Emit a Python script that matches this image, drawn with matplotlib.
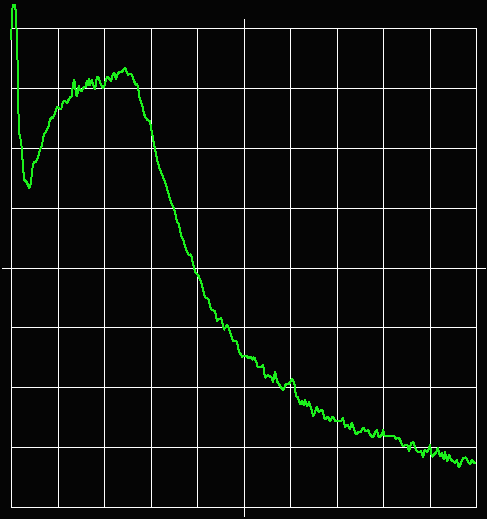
import matplotlib
matplotlib.use("Agg")
import matplotlib.pyplot as plt
import numpy as np

# Time (ms, 1 ms/div) and voltage (V, 1 V/div) of the captured trace
time_ms = [0.00, 0.01, 0.02, 0.04, 0.09, 0.11, 0.13, 0.15, 0.16, 0.17, 0.22, 0.24, 0.26, 0.28, 0.32,
           0.34, 0.37, 0.39, 0.41, 0.43, 0.45, 0.47, 0.50, 0.54, 0.56, 0.60, 0.62, 0.67, 0.69, 0.71,
           0.75, 0.80, 0.84, 0.88, 0.90, 0.95, 0.99, 1.03, 1.08, 1.10, 1.14, 1.18, 1.20, 1.23, 1.27,
           1.31, 1.33, 1.36, 1.38, 1.40, 1.42, 1.46, 1.48, 1.51, 1.53, 1.57, 1.61, 1.63, 1.66, 1.68,
           1.70, 1.72, 1.74, 1.76, 1.81, 1.83, 1.85, 1.89, 1.91, 1.96, 1.98, 2.02, 2.04, 2.07, 2.11,
           2.15, 2.17, 2.19, 2.22, 2.26, 2.28, 2.32, 2.37, 2.41, 2.45, 2.50, 2.52, 2.56, 2.60, 2.62,
           2.67, 2.69, 2.71, 2.73, 2.75, 2.77, 2.82, 2.84, 2.88, 2.93, 2.99, 3.01, 3.05, 3.10, 3.14,
           3.20, 3.25, 3.29, 3.35, 3.40, 3.44, 3.51, 3.57, 3.61, 3.66, 3.70, 3.78, 3.83, 3.87, 3.91,
           3.96, 4.02, 4.09, 4.13, 4.17, 4.24, 4.30, 4.39, 4.43, 4.52, 4.58, 4.65, 4.73, 4.77, 4.86,
           4.90, 4.97, 5.05, 5.12, 5.16, 5.18, 5.23, 5.27, 5.31, 5.40, 5.42, 5.46, 5.53, 5.61, 5.63,
           5.68, 5.72, 5.78, 5.85, 5.91, 5.96, 6.00, 6.04, 6.09, 6.13, 6.17, 6.22, 6.26, 6.30, 6.32,
           6.37, 6.41, 6.45, 6.50, 6.54, 6.58, 6.62, 6.69, 6.75, 6.82, 6.86, 6.92, 6.97, 7.03, 7.10,
           7.14, 7.18, 7.23, 7.29, 7.33, 7.42, 7.48, 7.53, 7.57, 7.63, 7.68, 7.72, 7.78, 7.83, 7.87,
           7.91, 7.98, 8.00, 8.04, 8.11, 8.19, 8.24, 8.28, 8.34, 8.39, 8.43, 8.47, 8.52, 8.56, 8.60,
           8.65, 8.69, 8.73, 8.77, 8.82, 8.86, 8.90, 8.95, 8.99, 9.01, 9.05, 9.10, 9.14, 9.18, 9.23,
           9.27, 9.31, 9.33, 9.38, 9.42, 9.46, 9.51, 9.55, 9.59, 9.63, 9.68, 9.72, 9.78, 9.83, 9.87,
           9.91, 9.96, 9.98]
volts = [3.81, 3.97, 4.24, 4.39, 4.39, 4.16, 3.72, 3.21, 2.61, 2.27, 2.09, 1.89, 1.67, 1.47, 1.44,
         1.42, 1.37, 1.32, 1.35, 1.44, 1.57, 1.72, 1.77, 1.77, 1.80, 1.89, 1.97, 2.05, 2.17, 2.22,
         2.27, 2.34, 2.47, 2.52, 2.49, 2.59, 2.69, 2.66, 2.64, 2.72, 2.79, 2.77, 2.74, 2.79, 2.84,
         2.86, 3.06, 3.14, 3.01, 2.89, 2.86, 3.04, 2.97, 2.94, 2.97, 3.01, 3.01, 3.12, 3.04, 3.16,
         3.04, 3.11, 3.14, 3.06, 2.97, 3.11, 3.19, 3.17, 3.09, 3.02, 2.99, 3.06, 3.14, 3.19, 3.16,
         3.11, 3.17, 3.22, 3.26, 3.14, 3.21, 3.26, 3.26, 3.29, 3.34, 3.24, 3.22, 3.24, 3.22, 3.17,
         3.07, 3.04, 3.07, 3.01, 2.91, 2.81, 2.72, 2.64, 2.52, 2.47, 2.44, 2.34, 2.17, 1.97, 1.80,
         1.64, 1.55, 1.47, 1.34, 1.19, 1.09, 0.97, 0.77, 0.72, 0.52, 0.47, 0.27, 0.20, 0.22, 0.08,
         -0.08, -0.12, -0.25, -0.37, -0.50, -0.52, -0.70, -0.73, -0.89, -0.84, -1.04, -0.95, -1.12, -1.22, -1.24,
         -1.40, -1.49, -1.47, -1.52, -1.49, -1.54, -1.50, -1.57, -1.67, -1.65, -1.62, -1.84, -1.80, -1.84, -1.92,
         -1.74, -1.90, -1.97, -2.05, -1.95, -1.95, -1.92, -1.85, -1.92, -2.15, -2.17, -2.29, -2.22, -2.31, -2.21,
         -2.32, -2.24, -2.34, -2.49, -2.41, -2.32, -2.42, -2.37, -2.54, -2.49, -2.57, -2.49, -2.56, -2.57, -2.57,
         -2.51, -2.66, -2.62, -2.71, -2.59, -2.79, -2.74, -2.74, -2.67, -2.74, -2.71, -2.79, -2.84, -2.76, -2.71,
         -2.84, -2.79, -2.71, -2.82, -2.82, -2.81, -2.82, -2.86, -2.84, -2.92, -2.99, -2.97, -2.96, -3.07, -2.94,
         -2.91, -3.01, -3.07, -3.09, -3.07, -3.17, -3.04, -3.09, -3.02, -2.96, -3.16, -3.12, -3.09, -3.01, -3.16,
         -3.09, -3.21, -3.07, -3.24, -3.12, -3.21, -3.24, -3.26, -3.21, -3.34, -3.26, -3.19, -3.17, -3.24, -3.29,
         -3.22, -3.26, -3.27]

# Graticule: 10 x 8 divisions
x_divs = list(range(0, 11))
y_divs = list(range(-4, 5))

W, H = 487, 519
fig = plt.figure(figsize=(W / 100, H / 100), dpi=100, facecolor="#050505")
ax = fig.add_axes([0, 0, 1, 1])
ax.set_facecolor("#050505")

px_x = 46.5   # pixels per horizontal division
px_y = 59.875  # pixels per vertical division
ax.set_xlim(-11 / px_x, 10 + 11 / px_x)
ax.set_ylim(-4 - 12 / px_y, 4 + 28 / px_y)
ax.axis("off")

grid_kw = dict(color="white", linewidth=0.7, antialiased=False, zorder=1)
ext_x = 9 / px_x
ext_y = 9 / px_y
for xv in x_divs:
    if xv == 5:
        ax.plot([xv, xv], [-4 - ext_y, 4 + ext_y], **grid_kw)
    else:
        ax.plot([xv, xv], [-4, 4], **grid_kw)
for yv in y_divs:
    if yv == 0:
        ax.plot([-ext_x, 10 + ext_x], [yv, yv], **grid_kw)
    else:
        ax.plot([0, 10], [yv, yv], **grid_kw)

ax.plot(time_ms, volts, color="#1cf01c", linewidth=0.7, antialiased=False,
        solid_joinstyle="miter", zorder=2, clip_on=False)

fig.savefig("out.png", dpi=100, facecolor=fig.get_facecolor())
